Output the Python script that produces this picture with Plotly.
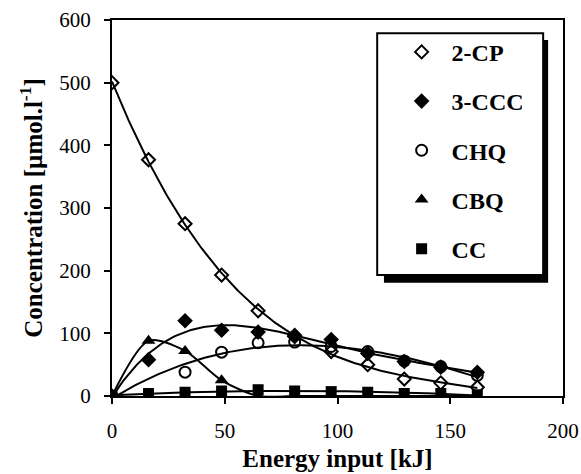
import numpy as np
import plotly.graph_objects as go

energy = [0, 16.2, 32.4, 48.6, 64.8, 81.0, 97.2, 113.4, 129.6, 145.8, 162.0]
cp2 = [500, 377, 275, 193, 136, 95, 71, 50, 27, 21, 14]
ccc3 = [0, 58, 120, 105, 102, 97, 90, 68, 55, 46, 38]
chq = [0, None, 38, 70, 85, 86, 79, 71, 56, 47, 33]
cbq = [0, 88, 72, 25, 0, 0, 0, 0, 0, 0, 0]
cc = [0, 4, 6, 8, 10, 8, 7, 6, 4, 4, 2]

names = ["2-CP", "3-CCC", "CHQ", "CBQ", "CC"]
series = [cp2, ccc3, chq, cbq, cc]
symbols = ["diamond-open", "diamond", "circle-open", "triangle-up", "square"]
sizes = [10, 12, 11, 12, 11]
fit_deg = [4, 4, 3, None, 2]

fig = go.Figure()
xs = np.linspace(0, 162, 200)
for name, ys, deg in zip(names, series, fit_deg):
    xx = np.array([x for x, y in zip(energy, ys) if y is not None], float)
    yy = np.array([y for y in ys if y is not None], float)
    if deg is None:
        fig.add_trace(go.Scatter(x=xx, y=yy, mode="lines", line=dict(color="black", width=2, shape="spline", smoothing=0.8),
                                 showlegend=False, hoverinfo="skip"))
    else:
        p = np.polyfit(xx, yy, deg)
        fig.add_trace(go.Scatter(x=xs, y=np.polyval(p, xs), mode="lines", line=dict(color="black", width=2),
                                 showlegend=False, hoverinfo="skip"))

for i, (name, ys, sym, sz) in enumerate(zip(names, series, symbols, sizes)):
    fig.add_trace(go.Scatter(
        x=energy, y=ys, mode="markers", name=name, legendgroup=name,
        marker=dict(symbol=sym, size=sz, color="black", line=dict(color="black", width=2 if "open" in sym else 0)),
    ))

# legend box with shadow (paper coords relative to plot area)
fig.add_shape(type="rect", xref="paper", yref="paper", x0=0.603, x1=0.967, y0=0.301, y1=0.947,
              fillcolor="black", line=dict(width=0), layer="above")
fig.add_shape(type="rect", xref="paper", yref="paper", x0=0.588, x1=0.956, y0=0.322, y1=0.965,
              fillcolor="white", line=dict(color="black", width=2), layer="above")

fig.update_layout(
    width=581, height=474,
    margin=dict(l=112, r=18, t=20, b=78, autoexpand=False),
    paper_bgcolor="white", plot_bgcolor="white",
    font=dict(family="Liberation Serif, Times New Roman, serif", color="black", size=21),
    showlegend=True,
    legend=dict(x=0.62, y=0.974, xanchor="left", yanchor="top", bgcolor="rgba(0,0,0,0)",
                borderwidth=0, tracegroupgap=15, itemwidth=50,
                font=dict(family="Liberation Serif, Times New Roman, serif", size=24, color="black", weight="bold")),
    xaxis=dict(range=[0, 200], tickvals=[0, 50, 100, 150, 200], showgrid=False, zeroline=False,
               showline=True, linecolor="black", linewidth=2, mirror=True, automargin=False,
               ticks="outside", ticklen=6, tickwidth=2, tickcolor="black", ticklabelstandoff=9,
               title=dict(text="<b>Energy input [kJ]</b>", font=dict(size=25), standoff=7)),
    yaxis=dict(range=[0, 600], tickvals=[0, 100, 200, 300, 400, 500, 600], showgrid=False, zeroline=False,
               showline=True, linecolor="black", linewidth=2, mirror=True, automargin=False,
               ticks="outside", ticklen=6, tickwidth=2, tickcolor="black", ticklabelstandoff=9,
               title=dict(text="<b>Concentration [µmol.l<sup>-1</sup>]</b>", font=dict(size=25), standoff=10)),
)

fig.write_html("out.html", config={"displayModeBar": False},
               post_script="document.body.style.margin='0';")
